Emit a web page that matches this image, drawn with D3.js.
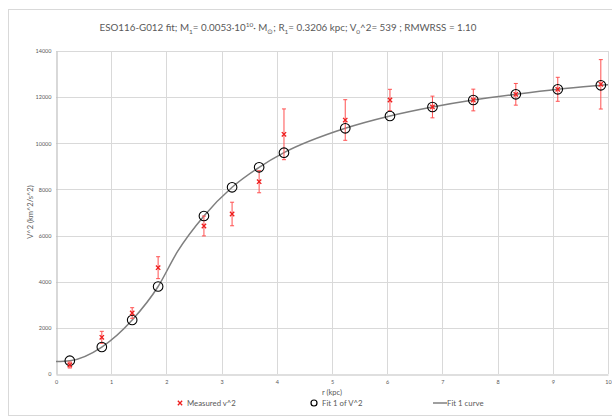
<!DOCTYPE html>
<html>
<head>
<meta charset="utf-8">
<script src="https://cdn.jsdelivr.net/npm/d3@7"></script>
<style>
  body { margin: 0; background: #fff; }
  text { font-family: Lato, "Open Sans", sans-serif; fill: #595959; }
</style>
</head>
<body>
<svg width="612" height="417"></svg>
<script>
// radii (kpc) of the data points
const radius = [0.25, 0.83, 1.38, 1.85, 2.68, 3.19, 3.68, 4.13, 5.24, 6.05, 6.82, 7.56, 8.33, 9.09, 9.87];
// measured v^2 and error
const measured = [390, 1590, 2644, 4608, 6415, 6935, 8335, 10389, 11009, 11876, 11573, 11876, 12123, 12340, 12556];
const measuredErr = [130, 260, 230, 475, 430, 510, 480, 1100, 880, 464, 470, 470, 470, 520, 1070];
// fit 1 of V^2
const fitV2 = [576, 1170, 2341, 3793, 6848, 8092, 8959, 9592, 10649, 11183, 11573, 11876, 12123, 12340, 12513];
// fit 1 curve
const curveR = [0, 0.25, 0.83, 1.38, 1.85, 2.2, 2.68, 3.19, 3.68, 4.13, 5.24, 6.05, 6.82, 7.56, 8.33, 9.09, 9.87, 10];
const curveV = [539, 576, 1170, 2341, 3793, 5300, 6848, 8092, 8959, 9592, 10649, 11183, 11573, 11876, 12123, 12340, 12513, 12540];
const xTicks = [0, 1, 2, 3, 4, 5, 6, 7, 8, 9, 10];
const yTicks = [0, 2000, 4000, 6000, 8000, 10000, 12000, 14000];

const svg = d3.select("svg");

// outer chart frame
svg.append("rect")
  .attr("x", 8.5).attr("y", 9.5)
  .attr("width", 620).attr("height", 406)
  .attr("fill", "none").attr("stroke", "#d9d9d9");

const x = d3.scaleLinear().domain([0, 10]).range([56, 608]);
const y = d3.scaleLinear().domain([0, 14000]).range([374, 51]);

// gridlines
svg.append("g").selectAll("line.h").data(yTicks.slice(1)).join("line")
  .attr("x1", x(0)).attr("x2", x(10))
  .attr("y1", d => Math.round(y(d)) + 0.5).attr("y2", d => Math.round(y(d)) + 0.5)
  .attr("stroke", "#d9d9d9");
svg.append("g").selectAll("line.v").data(xTicks.slice(1)).join("line")
  .attr("y1", y(0)).attr("y2", y(14000))
  .attr("x1", d => Math.round(x(d)) + 0.5).attr("x2", d => Math.round(x(d)) + 0.5)
  .attr("stroke", "#d9d9d9");

// axes
const xAxis = svg.append("g").attr("transform", `translate(0,${Math.round(y(0)) + 0.5})`)
  .call(d3.axisBottom(x).tickValues(xTicks).tickSize(0).tickPadding(6));
const yAxis = svg.append("g").attr("transform", `translate(${Math.round(x(0)) + 0.5},0)`)
  .call(d3.axisLeft(y).tickValues(yTicks).tickSize(0).tickPadding(5).tickFormat(d3.format("d")));
[xAxis, yAxis].forEach(g => {
  g.select(".domain").attr("stroke", "#bfbfbf").attr("stroke-width", 1.2);
  g.selectAll("text").style("font-size", "5.5px").style("font-family", "Lato").attr("fill", "#595959");
});

// fit curve
svg.append("path")
  .datum(curveR.map((r, i) => [r, curveV[i]]))
  .attr("fill", "none").attr("stroke", "#7f7f7f").attr("stroke-width", 1.5)
  .attr("d", d3.line().x(d => x(d[0])).y(d => y(d[1])).curve(d3.curveMonotoneX));

// error bars
const eb = svg.append("g").attr("stroke", "#ff5050").attr("stroke-width", 1);
radius.forEach((r, i) => {
  const cx = x(r), top = y(measured[i] + measuredErr[i]), bot = y(measured[i] - measuredErr[i]);
  eb.append("line").attr("x1", cx).attr("x2", cx).attr("y1", top).attr("y2", bot);
  eb.append("line").attr("x1", cx - 2).attr("x2", cx + 2).attr("y1", top).attr("y2", top);
  eb.append("line").attr("x1", cx - 2).attr("x2", cx + 2).attr("y1", bot).attr("y2", bot);
});

// fit circles
svg.append("g").selectAll("circle").data(radius).join("circle")
  .attr("cx", d => x(d)).attr("cy", (d, i) => y(fitV2[i]))
  .attr("r", 4.8).attr("fill", "none").attr("stroke", "#000").attr("stroke-width", 1.1);

// measured crosses
const cross = d3.symbol().type(d3.symbolX).size(14);
svg.append("g").selectAll("path").data(radius).join("path")
  .attr("transform", (d, i) => `translate(${x(d)},${y(measured[i])})`)
  .attr("d", cross).attr("stroke", "#ee1c1c").attr("stroke-width", 1.3).attr("fill", "none");

// title
const title = svg.append("text").attr("x", 288).attr("y", 31)
  .attr("text-anchor", "middle").style("font-size", "9.8px");
title.append("tspan").text("ESO116-G012 fit; M");
title.append("tspan").attr("dy", 2.5).style("font-size", "6.5px").text("1");
title.append("tspan").attr("dy", -2.5).text("= 0.0053·10");
title.append("tspan").attr("dy", -4).style("font-size", "6.5px").text("10");
title.append("tspan").attr("dy", 4).text("· M");
title.append("tspan").attr("dy", 2.5).style("font-size", "6.5px").text("⊙");
title.append("tspan").attr("dy", -2.5).text("; R");
title.append("tspan").attr("dy", 2.5).style("font-size", "6.5px").text("1");
title.append("tspan").attr("dy", -2.5).text("= 0.3206 kpc; V");
title.append("tspan").attr("dy", 2.5).style("font-size", "6.5px").text("0");
title.append("tspan").attr("dy", -2.5).text("^2= 539 ; RMWRSS = 1.10");

// axis titles
svg.append("text").attr("x", 332).attr("y", 395).attr("text-anchor", "middle")
  .style("font-size", "7.5px").text("r (kpc)");
svg.append("text").attr("transform", "translate(33,212) rotate(-90)").attr("text-anchor", "middle")
  .style("font-size", "7.5px").text("V^2 (km^2/s^2)");

// legend
const lg = svg.append("g");
lg.append("path").attr("transform", "translate(180,403)").attr("d", cross)
  .attr("stroke", "#ee1c1c").attr("stroke-width", 1.3);
lg.append("text").attr("x", 187).attr("y", 406).style("font-size", "7.8px").text("Measured v^2");
lg.append("circle").attr("cx", 314).attr("cy", 403).attr("r", 3)
  .attr("fill", "none").attr("stroke", "#000").attr("stroke-width", 1.2);
lg.append("text").attr("x", 322).attr("y", 406).style("font-size", "7.8px").text("Fit 1 of V^2");
lg.append("line").attr("x1", 433).attr("x2", 447).attr("y1", 403).attr("y2", 403)
  .attr("stroke", "#7f7f7f").attr("stroke-width", 1.5);
lg.append("text").attr("x", 447).attr("y", 406).style("font-size", "7.8px").text("Fit 1 curve");
</script>
</body>
</html>
